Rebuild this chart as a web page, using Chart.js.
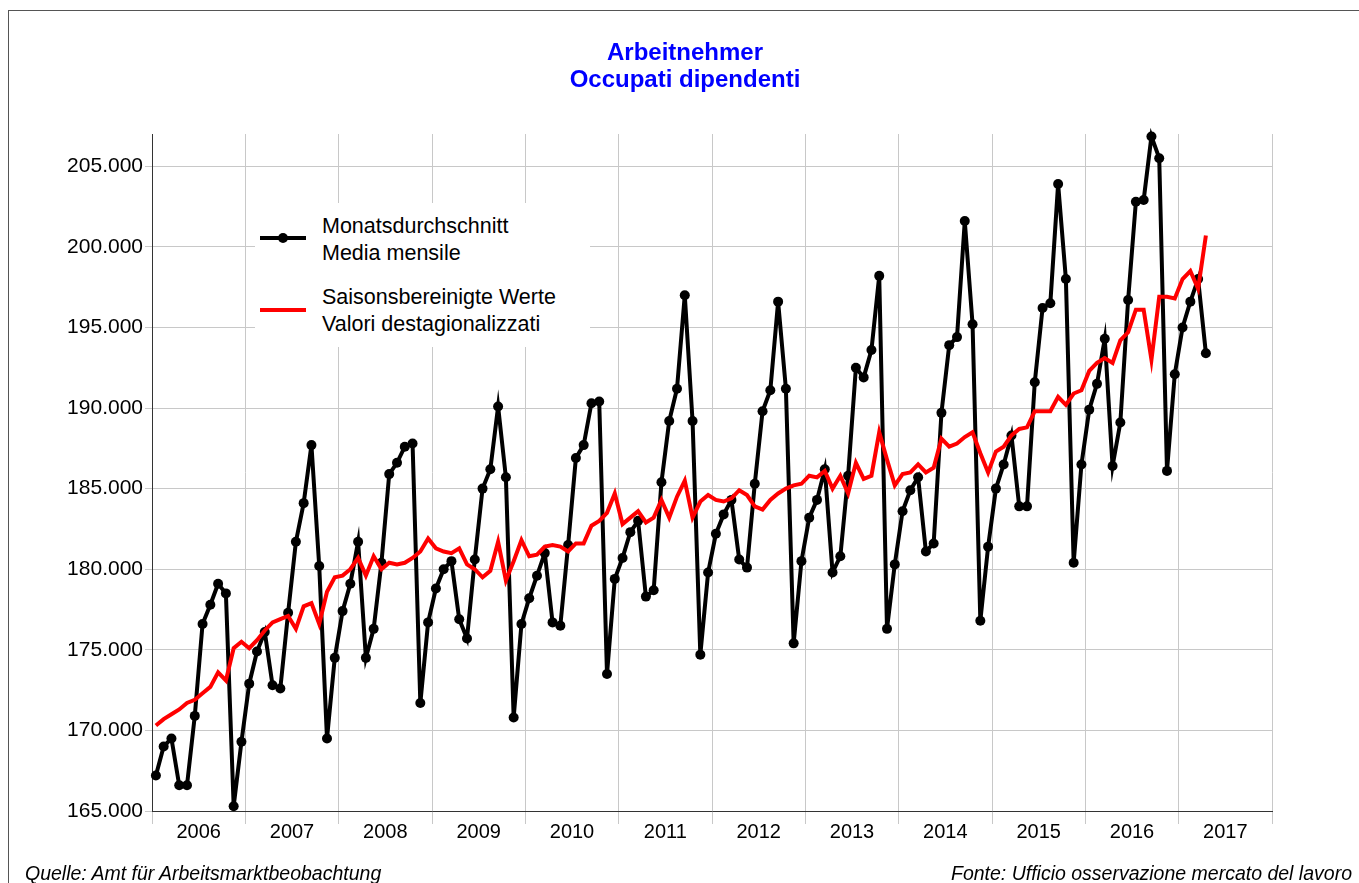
<!DOCTYPE html>
<html>
<head>
<meta charset="utf-8">
<script src="https://cdn.jsdelivr.net/npm/chart.js@4/dist/chart.umd.min.js"></script>
<style>
  html, body { margin: 0; padding: 0; background: #fff; }
  #wrap { position: relative; width: 1359px; height: 883px; overflow: hidden; font-family: "Liberation Sans", Arial, sans-serif; }
  #frame { position: absolute; left: 8px; top: 10px; width: 1400px; height: 900px; border: 1px solid #555; box-sizing: border-box; }
  #c { position: absolute; left: 0; top: 0; }
  #title { position: absolute; left: 0; top: 38px; width: 1370px; text-align: center; color: #0000ff; font-weight: bold; font-size: 24px; line-height: 27px; }
  #legend { position: absolute; left: 255px; top: 203px; width: 335px; height: 144px; background: #fff; }
  .leg-text { position: absolute; left: 67px; font-size: 21.5px; line-height: 27px; color: #000; white-space: nowrap; }
  .foot { position: absolute; top: 862px; font-size: 19.5px; font-style: italic; color: #000; white-space: nowrap; }
</style>
</head>
<body>
<div id="wrap">
  <div id="frame"></div>
  <canvas id="c" width="1359" height="883"></canvas>
  <div id="title">Arbeitnehmer<br>Occupati dipendenti</div>
  <div id="legend">
    <svg width="60" height="144" style="position:absolute;left:0;top:0">
      <line x1="5" y1="35" x2="51" y2="35" stroke="#000" stroke-width="4"/>
      <circle cx="28" cy="35" r="5" fill="#000"/>
      <line x1="5" y1="107" x2="51" y2="107" stroke="#ff0000" stroke-width="4"/>
    </svg>
    <div class="leg-text" style="top:10px">Monatsdurchschnitt<br>Media mensile</div>
    <div class="leg-text" style="top:81px">Saisonsbereinigte Werte<br>Valori destagionalizzati</div>
  </div>
  <div class="foot" style="left:25px">Quelle: Amt für Arbeitsmarktbeobachtung</div>
  <div class="foot" style="right:7px">Fonte: Ufficio osservazione mercato del lavoro</div>
</div>
<script>
// Year labels (one per year on the x axis)
const years = ['2006','2007','2008','2009','2010','2011','2012','2013','2014','2015','2016','2017'];

// Monatsdurchschnitt / Media mensile (Jan 2006 - Apr 2017)
const monthly = [
  167200,169000,169500,166600,166600,170900,176600,177800,179100,178500,165300,169300,
  172900,174900,176100,172800,172600,177300,181700,184100,187700,180200,169500,174500,
  177400,179100,181700,174500,176300,180400,185900,186600,187600,187800,171700,176700,
  178800,180000,180500,176900,175700,180600,185000,186200,190100,185700,170800,176600,
  178200,179600,181000,176700,176500,181500,186900,187700,190300,190400,173500,179400,
  180700,182300,183000,178300,178700,185400,189200,191200,197000,189200,174700,179800,
  182200,183400,184300,180600,180100,185300,189800,191100,196600,191200,175400,180500,
  183200,184300,186200,179800,180800,185800,192500,191900,193600,198200,176300,180300,
  183600,184900,185700,181100,181600,189700,193900,194400,201600,195200,176800,181400,
  185000,186500,188300,183900,183900,191600,196200,196500,203900,198000,180400,186500,
  189900,191500,194300,186400,189100,196700,202800,202900,206850,205500,186100,192100,
  195000,196600,198000,193400
];

// Saisonsbereinigte Werte / Valori destagionalizzati
const adjusted = [
  170300,170700,171000,171300,171700,171900,172300,172700,173600,173100,175100,175500,
  175100,175600,176200,176700,176900,177100,176300,177700,177900,176600,178600,179500,
  179600,180000,180700,179600,180800,180000,180400,180300,180400,180700,181100,181900,
  181300,181100,181000,181300,180300,180000,179500,179900,181700,179300,180500,181800,
  180800,180900,181400,181500,181400,181100,181600,181600,182700,183000,183500,184700,
  182800,183200,183600,182900,183200,184300,183200,184500,185500,183200,184200,184600,
  184300,184200,184400,184900,184600,183900,183700,184300,184700,185000,185200,185300,
  185800,185700,186100,185000,185800,184700,186600,185600,185800,188500,186800,185200,
  185900,186000,186500,186000,186300,188100,187600,187800,188200,188500,187200,186000,
  187300,187600,188300,188700,188800,189800,189800,189800,190700,190200,190900,191100,
  192300,192800,193100,192800,194200,194700,196100,196100,193000,196900,196900,196800,
  198000,198500,197400,200700
];

// Y tick values
const yTicks = [165000,170000,175000,180000,185000,190000,195000,200000,205000];

const fmt = v => Math.floor(v / 1000) + '.' + String(v % 1000).padStart(3, '0');
const toXY = arr => arr.map((v, i) => ({ x: i + 0.5, y: v }));

const xTickVals = [];
for (let m = 0; m <= years.length * 12; m += 6) xTickVals.push(m);

const GRID = '#c8c8c8';
const FONT = '"Liberation Sans", Arial, sans-serif';

new Chart(document.getElementById('c'), {
  type: 'line',
  data: {
    datasets: [
      {
        label: 'Monatsdurchschnitt',
        data: toXY(monthly),
        borderColor: '#000',
        backgroundColor: '#000',
        borderWidth: 4,
        pointRadius: 5,
        pointBorderWidth: 0,
        pointBackgroundColor: '#000',
        tension: 0,
        clip: false,
        order: 1
      },
      {
        label: 'Saisonsbereinigte Werte',
        data: toXY(adjusted),
        borderColor: '#ff0000',
        borderWidth: 4,
        pointRadius: 0,
        tension: 0,
        clip: false,
        order: 0
      }
    ]
  },
  options: {
    responsive: false,
    animation: false,
    devicePixelRatio: 1,
    layout: { padding: { top: 134, right: 87, left: 0, bottom: 0 } },
    plugins: { legend: { display: false }, title: { display: false }, tooltip: { enabled: false } },
    scales: {
      x: {
        type: 'linear',
        min: 0,
        max: years.length * 12,
        afterBuildTicks: s => { s.ticks = xTickVals.map(v => ({ value: v })); },
        afterFit: s => { s.height = 72; },
        border: { display: true, color: '#333', width: 1 },
        grid: {
          color: ctx => (ctx.tick && ctx.tick.value % 12 === 0) ? GRID : 'rgba(0,0,0,0)',
          lineWidth: 1,
          tickLength: 13
        },
        ticks: {
          autoSkip: false,
          maxRotation: 0,
          padding: -4,
          color: '#000',
          font: { family: FONT, size: 20 },
          callback: v => (v % 12 === 6) ? years[(v - 6) / 12] : ''
        }
      },
      y: {
        type: 'linear',
        min: 165000,
        max: 207000,
        afterBuildTicks: s => { s.ticks = yTicks.map(v => ({ value: v })); },
        afterFit: s => { s.width = 152; },
        border: { display: true, color: '#333', width: 1 },
        grid: { color: GRID, lineWidth: 1, tickLength: 7 },
        ticks: {
          padding: 2,
          color: '#000',
          font: { family: FONT, size: 21 },
          callback: v => fmt(v)
        }
      }
    }
  }
});
</script>
</body>
</html>
